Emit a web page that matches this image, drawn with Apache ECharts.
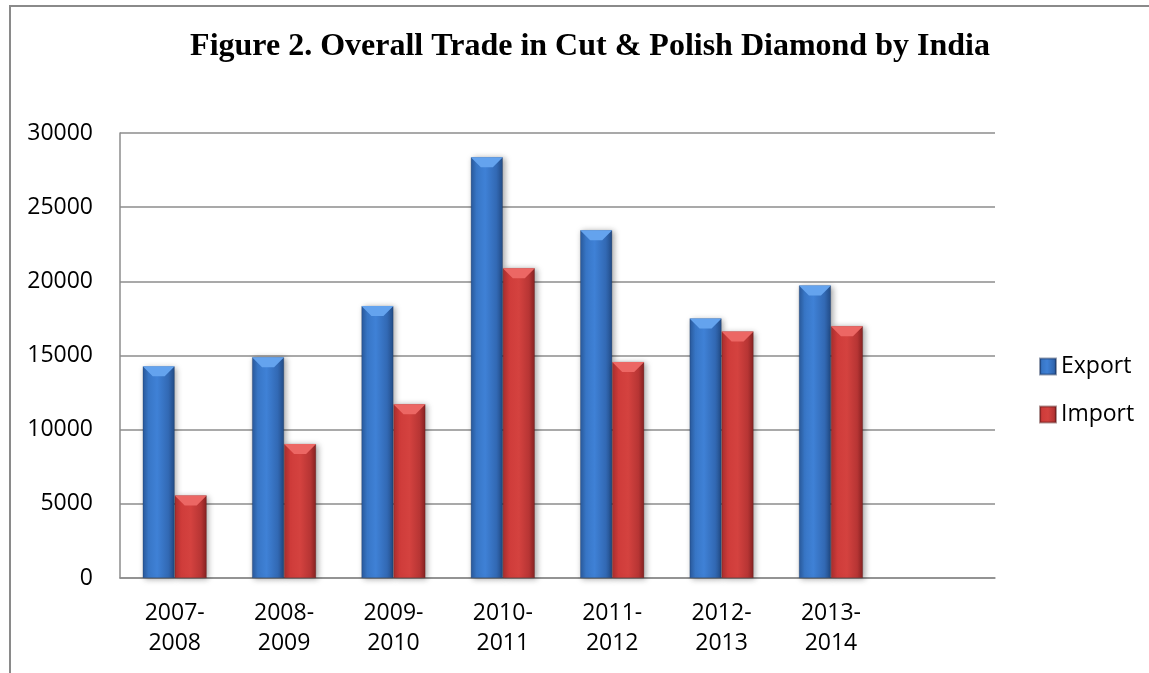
<!DOCTYPE html>
<html>
<head>
<meta charset="utf-8">
<title>Overall Trade in Cut &amp; Polish Diamond by India</title>
<script src="https://cdn.jsdelivr.net/npm/echarts@6/dist/echarts.min.js"></script>
<style>
  html, body { margin: 0; padding: 0; background: #ffffff; }
  #chart { width: 1149px; height: 673px; }
</style>
</head>
<body>
<div id="chart"></div>
<script>
// Financial years on the category axis; the last slot is left empty.
const categories = ['2007-\n2008', '2008-\n2009', '2009-\n2010', '2010-\n2011',
                    '2011-\n2012', '2012-\n2013', '2013-\n2014', ''];
const exportValues = [14270, 14890, 18330, 28370, 23450, 17500, 19720];
const importValues = [5570, 9030, 11720, 20890, 14560, 16620, 16980];
const yTicks = { min: 0, max: 30000, interval: 5000 };

const BAR_W = 32;
const FONT = '"Open Sans", "Noto Sans", sans-serif';

function hGrad(stops) {
  return new echarts.graphic.LinearGradient(0, 0, 1, 0,
    stops.map(function (s) { return { offset: s[0], color: s[1] }; }));
}

const blueFill = hGrad([[0, '#29589a'], [0.18, '#3876c6'], [0.45, '#3f81d6'], [0.8, '#3269b4'], [1, '#234c86']]);
const redFill = hGrad([[0, '#a82e2e'], [0.2, '#cf3c3a'], [0.5, '#d4423f'], [0.82, '#b73534'], [1, '#862222']]);

// Bevelled top face drawn on each bar, positioned from the value axis.
function bevel(offset, topColor) {
  return function (params, api) {
    const i = api.value(0);
    const top = api.coord([i, api.value(1)]);
    const x0 = top[0] + offset - BAR_W / 2;
    const x1 = x0 + BAR_W;
    const y0 = top[1];
    const d = 10;
    return {
      type: 'polygon',
      shape: { points: [[x0, y0], [x1, y0], [x1 - d, y0 + d], [x0 + d, y0 + d]] },
      style: { fill: topColor }
    };
  };
}

const chart = echarts.init(document.getElementById('chart'));
chart.setOption({
  animation: false,
  backgroundColor: '#ffffff',
  graphic: [{
    type: 'rect',
    shape: { x: 10, y: 6, width: 3000, height: 3000 },
    style: { fill: 'none', stroke: '#8a8a8a', lineWidth: 2 },
    z: -10
  }],
  title: {
    text: 'Figure 2. Overall Trade in Cut & Polish Diamond by India',
    left: 585,
    textAlign: 'center',
    top: 26,
    textStyle: {
      fontFamily: '"Liberation Serif", "Times New Roman", serif',
      fontWeight: 'bold',
      fontSize: 32,
      color: '#000000'
    }
  },
  legend: {
    data: ['Export', 'Import'],
    orient: 'vertical',
    left: 1034,
    top: 350,
    itemWidth: 16,
    itemHeight: 16,
    itemGap: 25,
    icon: 'rect',
    textStyle: { fontFamily: FONT, fontSize: 23, color: '#000000', lineHeight: 23 }
  },
  grid: { left: 120, right: 154, top: 133, bottom: 95, containLabel: false },
  xAxis: {
    type: 'category',
    data: categories,
    axisLine: { show: true, lineStyle: { color: '#8c8c8c', width: 1.5 } },
    axisTick: { show: false },
    axisLabel: {
      interval: 0,
      margin: 20,
      fontFamily: FONT,
      fontSize: 23,
      lineHeight: 30,
      color: '#000000'
    }
  },
  yAxis: {
    type: 'value',
    min: yTicks.min,
    max: yTicks.max,
    interval: yTicks.interval,
    axisLine: { show: true, lineStyle: { color: '#8c8c8c', width: 1.5 } },
    axisTick: { show: false },
    splitLine: { lineStyle: { color: '#8c8c8c', width: 1.5 } },
    axisLabel: {
      margin: 27,
      fontFamily: FONT,
      fontSize: 23,
      color: '#000000',
      formatter: function (v) { return String(v); }
    }
  },
  series: [
    {
      name: 'Export',
      type: 'bar',
      data: exportValues,
      barWidth: BAR_W,
      barGap: '0%',
      itemStyle: {
        color: blueFill,
        borderColor: 'rgba(20,40,80,0.45)',
        borderWidth: 0.6,
        shadowColor: 'rgba(0,0,0,0.35)',
        shadowBlur: 6,
        shadowOffsetX: 2,
        shadowOffsetY: 1
      }
    },
    {
      name: 'Import',
      type: 'bar',
      data: importValues,
      barWidth: BAR_W,
      barGap: '0%',
      itemStyle: {
        color: redFill,
        borderColor: 'rgba(80,20,20,0.45)',
        borderWidth: 0.6,
        shadowColor: 'rgba(0,0,0,0.35)',
        shadowBlur: 6,
        shadowOffsetX: 2,
        shadowOffsetY: 1
      }
    },
    {
      name: 'exportTop',
      type: 'custom',
      renderItem: bevel(-BAR_W / 2, '#64a3ee'),
      data: exportValues.map(function (v, i) { return [i, v]; }),
      z: 5,
      silent: true
    },
    {
      name: 'importTop',
      type: 'custom',
      renderItem: bevel(BAR_W / 2, '#ec6764'),
      data: importValues.map(function (v, i) { return [i, v]; }),
      z: 5,
      silent: true
    }
  ]
});
</script>
</body>
</html>
